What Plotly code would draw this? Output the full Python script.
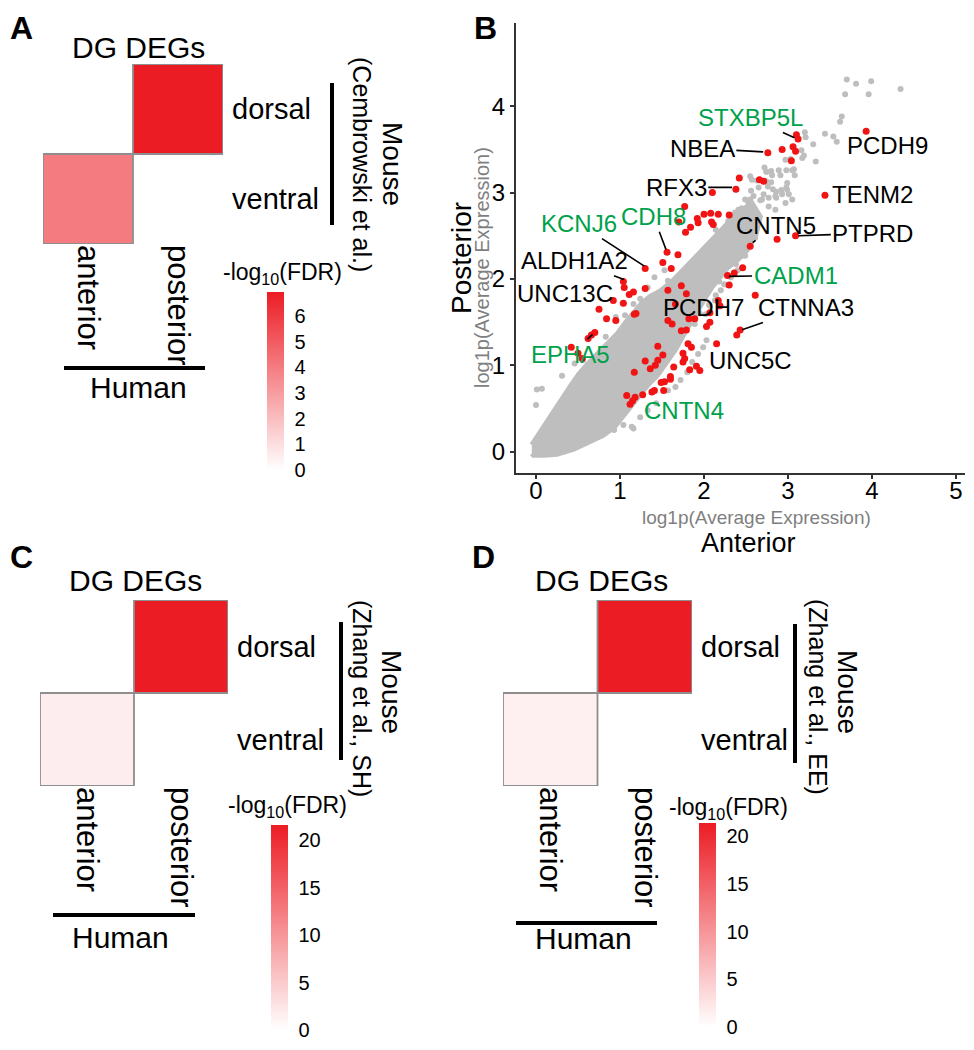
import plotly.graph_objects as go

# The page body keeps its default 8px margin, so the figure is sized to fit the
# 974x1050 window exactly and all layout positions are given in page pixels.
PAGE_W, PAGE_H = 974, 1050
OFF = 8
W, H = PAGE_W - 2 * OFF, PAGE_H - 2 * OFF
FONT = "Liberation Sans, Arial, sans-serif"
GRAY = "#BEBEBE"
RED_PT = "#F01414"
GREEN = "#00A14B"
CELL_RED = "#EC1C24"

# ---------------- Panel B data (log1p average expression) ----------------
cloud_x = [-0.05, -0.03, 0.10, 0.25, 0.45, 0.63, 0.80, 0.93, 1.02, 1.11, 1.23, 1.33, 1.45, 1.56, 1.66,
           1.75, 1.84, 1.93, 2.02, 2.10, 2.19, 2.28, 2.40, 2.52, 2.62, 2.67,
           2.57, 2.45, 2.35, 2.24, 2.12, 2.00, 1.88, 1.76, 1.62, 1.48, 1.36, 1.26, 1.16, 1.07, 0.97,
           0.85, 0.73, 0.61, 0.51, 0.41, 0.33, 0.25, 0.17, 0.09, 0.01, -0.05]
cloud_y = [-0.02, -0.04, -0.04, -0.03, 0.03, 0.11, 0.19, 0.28, 0.39, 0.51, 0.65, 0.77, 0.89, 1.03, 1.18,
           1.34, 1.50, 1.64, 1.79, 1.91, 2.02, 2.13, 2.22, 2.34, 2.52, 2.72,
           2.88, 2.80, 2.72, 2.60, 2.48, 2.36, 2.22, 2.10, 1.97, 1.86, 1.80, 1.72, 1.61, 1.50, 1.37,
           1.24, 1.13, 1.01, 0.90, 0.76, 0.64, 0.52, 0.40, 0.29, 0.17, 0.08]

gray_x = [3.70, 3.81, 3.99, 3.68, 3.96, 4.34, 3.64, 3.62, 3.44, 3.54, 3.58, 3.20, 3.30, 3.16, 3.33,
          2.72, 2.80, 2.89, 2.98, 3.07, 2.55, 2.63, 2.74, 2.80, 2.99, 2.98, 2.86, 2.65, 2.56, 2.59,
          2.67, 2.92, 3.21, 3.19, 3.17, 3.03, 2.97, 2.74, 2.81, 3.08, 2.76, 2.82, 2.99, 3.01, 2.86,
          2.55, 2.69, 2.45, 2.55, 2.61, 2.65, 2.37, 2.57, 2.75, 2.91, 3.05, 2.71, 2.77, 2.85, 2.93,
          3.05, 2.49, 2.53, 2.41, 2.77, 2.85, 2.97, 2.29, 2.37, 2.45, 2.53, 2.14, 2.22, 2.29, 2.34,
          2.41, 2.49, 2.57, 2.61, 2.29, 2.37, 2.45, 2.22, 2.18, 2.28, 2.14, 2.06, 2.02,
          0.01, 0.00, 0.07, 0.31, 0.46, 0.56, 0.83, 0.95, 1.06, 1.16, 1.24, 1.33, 1.41, 1.53, 1.57,
          0.93, 1.14, 1.04, 1.24, 1.33, 1.43, 1.57, 1.66, 1.72, 1.80, 1.86, 1.93, 1.99, 2.03, 1.89,
          1.95, 2.07, 2.13, 2.20, 2.24, 2.32, 2.40, 2.38, 2.49, 1.16]
gray_y = [4.31, 4.26, 4.29, 4.14, 4.14, 4.20, 3.88, 3.82, 3.68, 3.65, 3.59, 3.70, 3.56, 3.49, 3.36,
          3.29, 3.25, 3.26, 3.26, 3.27, 3.19, 3.14, 3.13, 3.12, 3.11, 3.06, 3.01, 3.06, 3.02, 2.96,
          2.91, 3.03, 3.64, 3.43, 3.40, 3.39, 3.38, 3.24, 3.20, 3.20, 3.07, 3.04, 3.03, 2.98, 2.94,
          2.92, 2.92, 2.82, 2.80, 2.79, 2.73, 2.77, 3.15, 3.24, 3.20, 3.26, 2.98, 2.94, 2.96, 2.98,
          2.92, 2.92, 2.88, 2.80, 2.84, 2.80, 2.88, 2.67, 2.65, 2.65, 2.61, 2.57, 2.54, 2.52, 2.42,
          2.39, 2.42, 2.54, 2.48, 2.23, 2.19, 2.27, 2.08, 1.97, 1.93, 1.81, 1.70, 1.59,
          0.72, 0.54, 0.73, 0.88, 1.02, 1.06, 1.33, 1.56, 1.58, 1.71, 1.77, 1.90, 2.02, 2.10, 1.98,
          0.25, 0.29, 0.31, 0.40, 0.48, 0.56, 0.71, 0.75, 0.83, 0.92, 1.04, 1.13, 1.21, 1.29, 1.48,
          1.60, 1.69, 1.75, 1.87, 1.94, 2.02, 2.10, 2.17, 2.27, 0.27]

red_x = [3.93, 3.10, 3.12, 3.06, 3.09, 2.93, 2.76, 3.04, 2.42, 2.66, 2.71, 2.38, 2.10, 3.44,
         1.77, 2.00, 2.08, 2.17, 1.93, 1.84, 2.11, 2.30, 1.70, 1.78, 1.92, 2.09,
         2.87, 3.09, 2.55, 1.56, 1.69, 1.51, 1.30, 1.61, 2.36, 2.46, 2.28, 2.30, 2.61,
         1.04, 1.05, 1.11, 1.16, 1.30, 0.92, 1.04, 0.75, 1.19, 0.84, 0.95, 1.17,
         0.70, 0.66, 0.62, 0.42, 0.50, 0.55,
         2.17, 2.19, 2.07, 2.07, 2.03, 1.79, 1.73, 2.43, 2.39, 2.15, 1.81, 1.85, 1.75, 1.77, 1.75,
         1.91, 1.95, 1.83, 1.66, 1.79, 1.57, 1.57, 1.62, 1.82, 1.89, 1.73,
         1.64, 1.51, 1.45, 1.30, 1.60, 1.53, 1.49, 1.41, 1.38, 1.27, 1.18, 1.15, 1.12, 1.08, 1.45,
         1.17, 1.60, 1.52, 1.42, 1.36]
red_y = [3.71, 3.67, 3.62, 3.53, 3.48, 3.50, 3.46, 3.37, 3.17, 3.15, 3.13, 3.04, 3.00, 2.97,
         2.84, 2.75, 2.76, 2.75, 2.65, 2.60, 2.63, 2.74, 2.66, 2.54, 2.70, 2.66,
         2.46, 2.50, 2.38, 2.31, 2.28, 2.19, 2.12, 2.12, 2.07, 2.13, 2.04, 1.93, 1.81,
         1.97, 1.90, 1.82, 1.85, 1.89, 1.75, 1.72, 1.65, 1.60, 1.54, 1.52, 1.59,
         1.38, 1.35, 1.31, 1.21, 1.14, 1.08,
         1.75, 1.69, 1.61, 1.50, 1.45, 1.41, 1.40, 1.41, 1.35, 1.25, 1.25, 1.21, 1.14, 1.08, 1.04,
         0.99, 0.94, 0.95, 1.71, 1.83, 1.87, 1.52, 1.48, 1.54, 1.54, 1.92,
         0.98, 1.12, 1.06, 1.05, 0.87, 0.81, 0.80, 0.71, 0.69, 0.66, 0.63, 0.59, 0.55, 0.65, 1.22,
         0.92, 0.84, 0.71, 1.00, 0.96]

gene_names = ["STXBP5L", "NBEA", "PCDH9", "RFX3", "TENM2", "CNTN5", "PTPRD", "KCNJ6", "CDH8",
              "ALDH1A2", "UNC13C", "CADM1", "PCDH7", "CTNNA3", "EPHA5", "UNC5C", "CNTN4"]
gene_colors = [GREEN, "black", "black", "black", "black", "black", "black", GREEN, GREEN,
               "black", "black", GREEN, "black", "black", GREEN, "black", GREEN]
gene_text_x = [2.55, 1.98, 4.19, 1.67, 4.01, 2.86, 4.01, 0.51, 1.40, 0.46, 0.35, 3.09, 1.99, 3.21, 0.41, 2.55, 1.76]
gene_text_y = [3.87, 3.51, 3.55, 3.06, 2.98, 2.62, 2.53, 2.64, 2.72, 2.21, 1.83, 2.04, 1.67, 1.67, 1.13, 1.06, 0.48]
gene_point_x = [3.11, 2.74, None, 2.37, None, 2.55, 3.09, 1.32, 1.56, 1.08, None, 2.26, None, 2.42, 0.70, None, None]
gene_point_y = [3.62, 3.47, None, 3.06, None, 2.40, 2.50, 2.13, 2.31, 1.98, None, 2.03, None, 1.40, 1.38, None, None]

x_ticks_B = [0, 1, 2, 3, 4, 5]
y_ticks_B = [0, 1, 2, 3, 4]

# ---------------- Heatmap panels data (-log10 FDR) ----------------
human_regions = ["anterior", "posterior"]
mouse_regions = ["ventral", "dorsal"]
fdr_A = [[4.0, None], [None, 6.93]]
fdr_C = [[1.7, None], [None, 21.6]]
fdr_D = [[1.5, None], [None, 21.4]]
cbar_ticks_A = [0, 1, 2, 3, 4, 5, 6]
cbar_ticks_CD = [0, 5, 10, 15, 20]
mouse_sources = ["(Cembrowski et al.)", "(Zhang et al., SH)", "(Zhang et al., EE)"]


def px(x):
    return (x - OFF) / W


def py(y):
    return 1 - (y - OFF) / H


fig = go.Figure()

# ---------------- Panel B ----------------
fig.add_trace(go.Scatter(x=cloud_x, y=cloud_y, mode="lines", fill="toself", fillcolor=GRAY,
                         line=dict(color=GRAY, width=5), hoverinfo="skip", showlegend=False,
                         xaxis="x", yaxis="y"))
fig.add_trace(go.Scatter(x=gray_x, y=gray_y, mode="markers",
                         marker=dict(color=GRAY, size=6, line=dict(width=0)),
                         hoverinfo="skip", showlegend=False, xaxis="x", yaxis="y"))
fig.add_trace(go.Scatter(x=red_x, y=red_y, mode="markers",
                         marker=dict(color=RED_PT, size=7, line=dict(width=0)),
                         hoverinfo="skip", showlegend=False, xaxis="x", yaxis="y"))

annotations = []
for name, col, tx, ty, ptx, pty in zip(gene_names, gene_colors, gene_text_x, gene_text_y,
                                        gene_point_x, gene_point_y):
    if ptx is None:
        annotations.append(dict(x=tx, y=ty, xref="x", yref="y", text=name, showarrow=False,
                                font=dict(size=24, color=col, family=FONT)))
    else:
        annotations.append(dict(x=ptx, y=pty, ax=tx, ay=ty, xref="x", yref="y", axref="x", ayref="y",
                                text=name, showarrow=True, arrowhead=0, arrowwidth=1.6,
                                arrowcolor="black", standoff=3,
                                font=dict(size=24, color=col, family=FONT)))

# ---------------- Heatmap panels ----------------
panels = [
    dict(z=fdr_A, zmax=6.93, ticks=cbar_ticks_A, xa="x2", ya="y2",
         xdom=[43, 223], ydom=[64, 244], cb_x=267, cb_top=292, cb_bot=470),
    dict(z=fdr_C, zmax=21.6, ticks=cbar_ticks_CD, xa="x3", ya="y3",
         xdom=[40, 228], ydom=[600, 786], cb_x=271, cb_top=825, cb_bot=1030),
    dict(z=fdr_D, zmax=21.4, ticks=cbar_ticks_CD, xa="x4", ya="y4",
         xdom=[503, 692], ydom=[600, 786], cb_x=699, cb_top=823, cb_bot=1027),
]
shapes = []
for p in panels:
    fig.add_trace(go.Heatmap(
        z=p["z"], x=human_regions, y=mouse_regions, zmin=0, zmax=p["zmax"],
        colorscale=[[0, "#FFFFFF"], [1, CELL_RED]], xaxis=p["xa"], yaxis=p["ya"],
        hoverinfo="skip",
        colorbar=dict(x=px(p["cb_x"]), xanchor="left", xpad=0, ypad=0,
                      y=py((p["cb_top"] + p["cb_bot"]) / 2), yanchor="middle",
                      len=p["cb_bot"] - p["cb_top"], lenmode="pixels",
                      thickness=17, thicknessmode="pixels", outlinewidth=0,
                      tickvals=p["ticks"], ticks="outside", ticklen=7,
                      tickcolor="rgba(0,0,0,0)",
                      tickfont=dict(size=20, color="black", family=FONT))))
    for i in range(2):
        for j in range(2):
            if p["z"][i][j] is not None:
                shapes.append(dict(type="rect", xref=p["xa"], yref=p["ya"],
                                   x0=j - 0.5, x1=j + 0.5, y0=i - 0.5, y1=i + 0.5,
                                   line=dict(color="#8E8E8E", width=1.8), layer="above"))


def hm_axes(xdom, ydom, xa):
    xd = [px(xdom[0]), px(xdom[1])]
    yd = [py(ydom[1]), py(ydom[0])]
    xax = dict(domain=xd, range=[-0.5, 1.5], showgrid=False, zeroline=False, showline=False,
               ticks="", tickangle=90, tickfont=dict(size=31, color="black", family=FONT),
               anchor="y" + xa[1:])
    yax = dict(domain=yd, range=[-0.5, 1.5], showgrid=False, zeroline=False, showline=False,
               ticks="", side="right", ticklabelstandoff=8,
               tickfont=dict(size=29, color="black", family=FONT), anchor=xa)
    return xax, yax


xa2, ya2 = hm_axes(panels[0]["xdom"], panels[0]["ydom"], "x2")
xa3, ya3 = hm_axes(panels[1]["xdom"], panels[1]["ydom"], "x3")
xa4, ya4 = hm_axes(panels[2]["xdom"], panels[2]["ydom"], "x4")


def paper_text(x, y, text, size, color="black", angle=0, bold=False, xanchor="center",
               yanchor="middle"):
    t = "<b>" + text + "</b>" if bold else text
    return dict(x=px(x), y=py(y), xref="paper", yref="paper", text=t, showarrow=False,
                textangle=angle, xanchor=xanchor, yanchor=yanchor,
                font=dict(size=size, color=color, family=FONT))


# panel letters
annotations += [paper_text(8, 8, "A", 32, bold=True, xanchor="left", yanchor="top"),
                paper_text(485, 8, "B", 32, bold=True, yanchor="top"),
                paper_text(8, 557, "C", 32, bold=True, xanchor="left"),
                paper_text(483, 557, "D", 32, bold=True)]
# heatmap decorations
deco = [
    dict(title=(138, 47), human=(138, 387), hline=(64, 205, 368), vbar=(332, 83, 225),
         src=(362, 164), mouse=(393, 164), cbt=(282, 273)),
    dict(title=(135, 580), human=(120, 937), hline=(53, 195, 915), vbar=(341, 622, 760),
         src=(362, 698), mouse=(392, 692), cbt=(287, 806)),
    dict(title=(601, 580), human=(583, 938), hline=(516, 657, 923), vbar=(795, 624, 763),
         src=(818, 697), mouse=(848, 692), cbt=(728, 808)),
]
for d, src in zip(deco, mouse_sources):
    annotations.append(paper_text(*d["title"], "DG DEGs", 30))
    annotations.append(paper_text(*d["human"], "Human", 30))
    annotations.append(paper_text(*d["src"], src, 25, angle=90))
    annotations.append(paper_text(*d["mouse"], "Mouse", 28, angle=90))
    annotations.append(paper_text(*d["cbt"], "-log<sub>10</sub>(FDR)", 23))
    x0, x1, yy = d["hline"]
    shapes.append(dict(type="line", xref="paper", yref="paper", x0=px(x0), x1=px(x1),
                       y0=py(yy), y1=py(yy), line=dict(color="black", width=4)))
    xx, y0, y1 = d["vbar"]
    shapes.append(dict(type="line", xref="paper", yref="paper", x0=px(xx), x1=px(xx),
                       y0=py(y0), y1=py(y1), line=dict(color="black", width=4)))

# panel B axis titles
annotations += [
    paper_text(756, 517, "log1p(Average Expression)", 19, color="#7F7F7F"),
    paper_text(748, 543, "Anterior", 27),
    paper_text(462, 258, "Posterior", 28, angle=-90),
    paper_text(482, 268, "log1p(Average Expression)", 20, color="#7F7F7F", angle=-90),
]

fig.update_layout(
    width=W, height=H, margin=dict(l=0, r=0, t=0, b=0),
    paper_bgcolor="white", plot_bgcolor="white", showlegend=False,
    font=dict(family=FONT, color="black"),
    xaxis=dict(domain=[px(516), px(965)], range=[-0.238, 5.107], anchor="y",
               showline=True, linecolor="#333333", linewidth=2, ticks="outside", ticklen=4,
               tickwidth=1.5, tickcolor="#333333", tickvals=x_ticks_B, ticklabelstandoff=-9,
               tickfont=dict(size=24, color="black", family=FONT),
               showgrid=False, zeroline=False),
    yaxis=dict(domain=[py(473.3), py(23.3)], range=[-0.25, 4.96], anchor="x",
               showline=True, linecolor="#333333", linewidth=2, ticks="outside", ticklen=4,
               tickwidth=1.5, tickcolor="#333333", tickvals=y_ticks_B,
               tickfont=dict(size=24, color="black", family=FONT),
               showgrid=False, zeroline=False),
    xaxis2=xa2, yaxis2=ya2, xaxis3=xa3, yaxis3=ya3, xaxis4=xa4, yaxis4=ya4,
    annotations=annotations, shapes=shapes,
)

fig.write_html("out.html")
